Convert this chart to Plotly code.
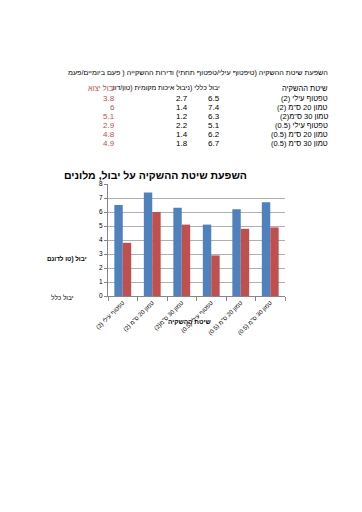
import plotly.graph_objects as go

# ---- data ----
categories = ["טפטוף עילי (2)", "טמון 20 ס\"מ (2)", "טמון 30 ס\"מ(2)",
              "טפטוף עילי (0.5)", "טמון 20 ס\"מ (0.5)", "טמון 30 ס\"מ (0.5)"]
total_yield = [6.5, 7.4, 6.3, 5.1, 6.2, 6.7]
local_yield = [2.7, 1.4, 1.2, 2.2, 1.4, 1.8]
export_yield = [3.8, 6, 5.1, 2.9, 4.8, 4.9]
y_ticks = [0, 1, 2, 3, 4, 5, 6, 7, 8]

W, H = 362, 512
L, R, T, B = 108, 285, 184, 296  # plot area in pixels

def px(x):
    return (x - L) / (R - L)

def py(y):
    return (B - y) / (B - T)

FONT = "Liberation Sans, Arial, sans-serif"
RED = "#C0504D"
BLUE = "#4F81BD"

fig = go.Figure()
fig.add_trace(go.Bar(x=categories, y=total_yield, marker_color=BLUE,
                     marker_line_width=0, name="יבול כללי"))
fig.add_trace(go.Bar(x=categories, y=export_yield, marker_color=RED,
                     marker_line_width=0, name="יבול יצוא"))

ann = []
def text(x, y, s, size=7.5, color="#000", anchor="right", bold=False, angle=0):
    if bold:
        s = "<b>" + s + "</b>"
    ann.append(dict(x=px(x), y=py(y), xref="paper", yref="paper", text=s,
                    showarrow=False, xanchor=anchor, yanchor="middle",
                    font=dict(family=FONT, size=size, color=color), textangle=angle))

# top description
text(330, 72, "השפעת שיטת ההשקיה (טיפטוף עילי/טפטוף תחתי) ודירות ההשקייה ( פעם ביומיים/פעמ", size=7.2)
# table header
text(330, 88, "שיטת ההשקיה", size=7.5)
text(222, 88, "יבול כללי (ניבול איכות מקומית (טון/דונ", size=6.9)
text(117, 88, "יבול יצוא", size=7.5, color=RED)
row_y = [98, 107, 116, 125, 134, 143]
for i, c in enumerate(categories):
    text(330, row_y[i], c, size=7.5)
    text(222, row_y[i], str(total_yield[i]), size=8)
    text(190, row_y[i], str(local_yield[i]), size=8)
    text(117, row_y[i], str(export_yield[i]), size=8, color=RED)

# chart title
text(155, 175, "השפעת שיטת ההשקיה על יבול, מלונים", size=10.5, anchor="center", bold=True)
# axis titles / legend remnants
text(89, 259, "יבול (טו לדונם", size=6.3, bold=True)
text(76, 297, "יבול כלל", size=6.5)
text(189, 321, "שיטת ההשקיה", size=6.5, anchor="center", bold=True)

fig.update_layout(
    width=W, height=H,
    margin=dict(l=L, r=W - R, t=T, b=H - B, pad=0),
    paper_bgcolor="white", plot_bgcolor="white",
    barmode="group", bargap=0.43, bargroupgap=0,
    showlegend=False,
    annotations=ann,
    font=dict(family=FONT, size=7, color="#000"),
)
fig.update_xaxes(
    tickangle=-45, tickfont=dict(size=6), showline=True, linecolor="#868686",
    ticks="outside", tickson="boundaries", ticklen=4, tickcolor="#868686",
    showgrid=False, automargin=False,
)
fig.update_yaxes(
    range=[0, 8], tickvals=y_ticks, tickfont=dict(size=6.5),
    showline=True, linecolor="#868686", ticks="outside", ticklen=3,
    tickcolor="#868686", showgrid=True, gridcolor="#b0b0b0", gridwidth=1,
    zeroline=False, automargin=False,
)

fig.write_html("out.html")
